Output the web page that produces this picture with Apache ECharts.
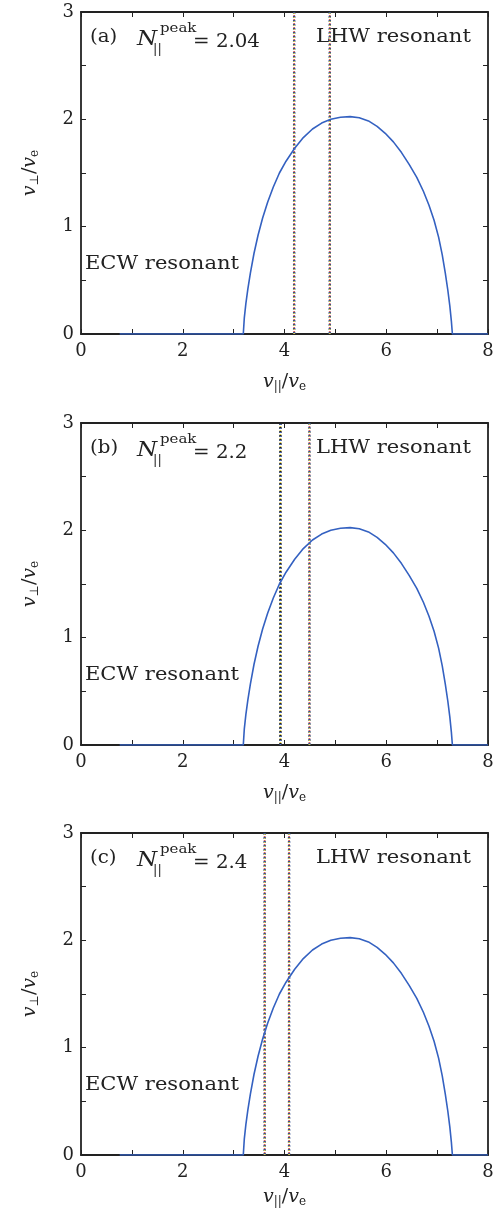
<!DOCTYPE html>
<html>
<head>
<meta charset="utf-8">
<script src="https://cdn.jsdelivr.net/npm/echarts@6/dist/echarts.min.js"></script>
<style>
  html, body { margin: 0; padding: 0; background: #fff; }
  #main { width: 502px; height: 1209px; }
</style>
</head>
<body>
<div id="main"></div>
<script>
// distribution boundary (same in all three panels)
var curveX = [0.76, 3.19, 3.21, 3.24, 3.28, 3.33, 3.40, 3.48, 3.57, 3.67, 3.78, 3.90, 4.03, 4.2, 4.37, 4.55, 4.73, 4.91, 5.1, 5.29, 5.47, 5.65, 5.82, 5.98, 6.14, 6.3, 6.45, 6.6, 6.73, 6.84, 6.94, 7.03, 7.1, 7.16, 7.21, 7.25, 7.28, 7.3, 8];
var curveY = [0, 0, 0.15, 0.28, 0.42, 0.57, 0.75, 0.92, 1.08, 1.23, 1.37, 1.50, 1.61, 1.73, 1.83, 1.91, 1.965, 2.0, 2.02, 2.025, 2.015, 1.985, 1.935, 1.87, 1.79, 1.69, 1.58, 1.46, 1.33, 1.2, 1.06, 0.9, 0.74, 0.57, 0.41, 0.26, 0.12, 0, 0];

// resonance positions (vertical lines) per panel
var resA = [4.19, 4.89];
var resB = [3.92, 4.49];
var resC = [3.61, 4.09];

var panelNames = ['(a)', '(b)', '(c)'];
var peakValues = ['2.04', '2.2', '2.4'];
var gridTops = [12, 423, 833];
var xNameGaps = [37, 37, 31];
var gridH = 322;

var FONT = 'DejaVu Serif';
var blue = '#3461c1';
var ink = '#222';

var myChart = echarts.init(document.getElementById('main'));

var curveData = curveX.map(function (x, i) { return [x, curveY[i]]; });

var grids = [], xAxes = [], yAxes = [], series = [], graphics = [];

function tickLabelsX(v) { return v % 2 === 0 ? String(v) : ''; }
function tickLabelsY(v) { return v % 1 === 0 ? String(v) : ''; }

var nameRich = {
    v: { fontFamily: FONT, fontStyle: 'italic', fontSize: 19, color: ink, lineHeight: 22, verticalAlign: 'middle' },
    n: { fontFamily: FONT, fontSize: 19, color: ink, lineHeight: 22, verticalAlign: 'middle' },
    s: { fontFamily: FONT, fontSize: 12, color: ink, lineHeight: 12, verticalAlign: 'bottom' }
};

function label(txt, x, y, size, opts) {
    opts = opts || {};
    graphics.push({
        type: 'text', x: x, y: y, scaleX: opts.sx || 1.15, silent: true,
        style: {
            text: txt, fill: ink,
            font: (opts.italic ? 'italic ' : '') + size + 'px "' + FONT + '"',
            textAlign: 'left', textVerticalAlign: 'middle'
        }
    });
}

[resA, resB, resC].forEach(function (res, p) {
    var top = gridTops[p];
    grids.push({ left: 81, width: 407, top: top, height: gridH, outerBoundsMode: 'none' });

    var common = {
        type: 'value', gridIndex: p,
        axisLine: { show: true, onZero: false, lineStyle: { color: ink, width: 1.8 } },
        axisTick: { show: true, inside: true, length: 5, lineStyle: { color: ink, width: 1 } },
        splitLine: { show: false }
    };
    xAxes.push(Object.assign({}, common, {
        position: 'bottom', min: 0, max: 8, interval: 1,
        axisLabel: { formatter: tickLabelsX, fontFamily: FONT, fontSize: 18, color: ink, margin: 8 },
        name: '{v|v}{s|||}{n|/}{v|v}{s|e}', nameLocation: 'middle', nameGap: xNameGaps[p],
        nameTextStyle: { rich: nameRich }
    }));
    xAxes.push(Object.assign({}, common, {
        position: 'top', min: 0, max: 8, interval: 1, axisLabel: { show: false }
    }));
    yAxes.push(Object.assign({}, common, {
        position: 'left', min: 0, max: 3, interval: 0.5,
        axisLabel: { formatter: tickLabelsY, fontFamily: FONT, fontSize: 18, color: ink, margin: 7 },
        name: '{v|v}{s|⊥}{n|/}{v|v}{s|e}', nameLocation: 'middle', nameGap: 40, nameRotate: 90,
        nameTextStyle: { rich: nameRich }
    }));
    yAxes.push(Object.assign({}, common, {
        position: 'right', min: 0, max: 3, interval: 0.5, axisLabel: { show: false }
    }));

    var xi = p * 2, yi = p * 2;

    // resonance lines: interleaved dotted colours
    res.forEach(function (x, k) {
        var pts = [[x, 0], [x, 3]];
        var dark = (p === 1 && k === 0);
        series.push({
            type: 'line', xAxisIndex: xi, yAxisIndex: yi, data: pts, symbol: 'none', silent: true,
            lineStyle: { color: dark ? '#1e1e1e' : '#34508f', width: 2.4, type: [2, 2] }
        });
        series.push({
            type: 'line', xAxisIndex: xi, yAxisIndex: yi, data: pts, symbol: 'none', silent: true,
            lineStyle: { color: dark ? '#e0cf45' : '#d9605a', width: 1.8, type: [1, 3], dashOffset: 2 }
        });
        series.push({
            type: 'line', xAxisIndex: xi, yAxisIndex: yi, data: pts, symbol: 'none', silent: true,
            lineStyle: { color: dark ? '#4a6fc0' : '#d8c64a', width: 1.8, type: [1, 3], dashOffset: 0 }
        });
    });

    series.push({
        type: 'line', xAxisIndex: xi, yAxisIndex: yi, data: curveData, symbol: 'none', silent: true,
        lineStyle: { color: blue, width: 1.6 }, z: 5
    });

    // annotations
    label(panelNames[p], 90, top + 25, 18, { sx: 1.1 });
    label('N', 137, top + 28, 21, { italic: true, sx: 1.1 });
    label('peak', 160, top + 17, 13, { sx: 1.15 });
    label('||', 153, top + 38, 13, { sx: 1.0 });
    label('= ' + peakValues[p], 193, top + 30, 18, { sx: 1.1 });
    label('LHW resonant', 316, top + 25, 18, { sx: 1.17 });
    label('ECW resonant', 85, top + 252, 18, { sx: 1.17 });
});

var option = {
    animation: false,
    backgroundColor: '#fff',
    grid: grids,
    xAxis: xAxes,
    yAxis: yAxes,
    series: series,
    graphic: graphics
};
myChart.setOption(option);
</script>
</body>
</html>
